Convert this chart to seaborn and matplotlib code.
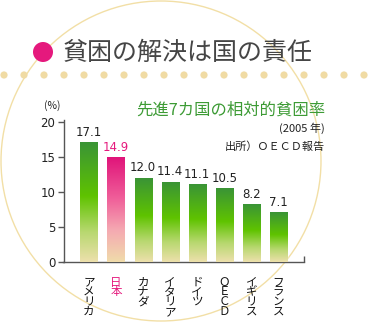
import numpy as np
import matplotlib
matplotlib.use("Agg")
import matplotlib.pyplot as plt
from matplotlib.colors import LinearSegmentedColormap
from matplotlib.patches import Circle
import seaborn as sns

# ---- data ----
categories = ["アメリカ", "日本", "カナダ", "イタリア", "ドイツ", "ＯＥＣＤ", "イギリス", "フランス"]
values = [17.1, 14.9, 12.0, 11.4, 11.1, 10.5, 8.2, 7.1]
value_labels = ["17.1", "14.9", "12.0", "11.4", "11.1", "10.5", "8.2", "7.1"]
y_ticks = [0, 5, 10, 15, 20]
highlight = "日本"

title = "貧困の解決は国の責任"
subtitle = "先進7カ国の相対的貧困率"
year_note = "(2005 年)"
source_note = "出所）ＯＥＣＤ報告"
unit_label = "(%)"

W, H = 369, 322
sns.set_theme(style="white")
plt.rcParams["font.family"] = ["Noto Sans CJK JP", "DejaVu Sans"]

fig = plt.figure(figsize=(W / 100, H / 100), dpi=100)
fig.patch.set_facecolor("white")

# background decoration axes (pixel coordinates)
bg = fig.add_axes([0, 0, 1, 1], zorder=0)
bg.set_xlim(0, W)
bg.set_ylim(H, 0)
bg.axis("off")
bg.add_patch(Circle((161, 161), 160, fill=False, ec="#f2dfa6", lw=1.0))
for xd in np.arange(4, W, 20):
    bg.add_patch(Circle((xd, 75), 3.6, fc="#f0dba4", ec="none"))
bg.add_patch(Circle((43, 52), 10, fc="#e5197d", ec="none"))
bg.text(63, 53, title, fontsize=18, color="#454545", va="center", ha="left")

# main chart axes
x0, x1 = 63.5, 304
ybase, ytop = 261.7, 119.7
ax = fig.add_axes([x0 / W, (H - ybase) / H, (x1 - x0) / W, (ybase - ytop) / H], zorder=2)
ax.set_facecolor("none")

palette = {c: ("#e5197d" if c == highlight else "#5cc000") for c in categories}
sns.barplot(x=categories, y=values, hue=categories, palette=palette, legend=False,
            width=0.63, ax=ax, saturation=1)

green_cmap = LinearSegmentedColormap.from_list(
    "g", [(0.0, "#ede0ac"), (0.25, "#b8d870"), (0.55, "#5fc300"), (1.0, "#3a9436")])
pink_cmap = LinearSegmentedColormap.from_list(
    "p", [(0.0, "#f0dcaa"), (0.3, "#f5aab2"), (0.6, "#f0609a"), (1.0, "#e0147a")])
grad = np.linspace(0, 1, 256).reshape(-1, 1)

ax.set_xlim(-0.94, 7.95)
ax.set_ylim(0, 20.3)
for patch, cat, lab, v in zip(ax.patches, categories, value_labels, values):
    bx, by = patch.get_x(), patch.get_y()
    bw, bh = patch.get_width(), patch.get_height()
    cmap = pink_cmap if cat == highlight else green_cmap
    ax.imshow(grad, cmap=cmap, origin="lower", aspect="auto",
              extent=[bx, bx + bw, by, by + bh], zorder=3, interpolation="bilinear")
    ax.annotate(lab, (bx + bw / 2, by + bh), xytext=(0, 2.5), textcoords="offset points",
                ha="center", va="bottom", fontsize=8.5,
                color="#e5197d" if cat == highlight else "#222222",
                family=["Liberation Sans Narrow", "DejaVu Sans"])
ax.set_xlim(-0.94, 7.95)
ax.set_ylim(0, 20.3)

# axes styling
for s in ["top", "right"]:
    ax.spines[s].set_visible(False)
for s in ["left", "bottom"]:
    ax.spines[s].set_color("#555555")
    ax.spines[s].set_linewidth(1.0)
ax.set_yticks(y_ticks)
ax.set_yticklabels([str(t) for t in y_ticks], family=["Liberation Sans Narrow", "DejaVu Sans"],
                   fontsize=8.5, color="#222222")
ax.tick_params(axis="y", direction="out", length=4, width=1, color="#555555", pad=2, left=True)
ax.set_xticks(range(len(categories)))
ax.set_xticklabels(["\n".join(c) for c in categories], fontsize=8.3, linespacing=0.68, va="top")
for t, c in zip(ax.get_xticklabels(), categories):
    t.set_color("#e5197d" if c == highlight else "#111111")
ax.tick_params(axis="x", length=0, pad=10)
ax.set_xticks([7.95], minor=True)
ax.tick_params(axis="x", which="minor", direction="in", length=4, width=1,
               color="#555555", bottom=True)
ax.set_xlabel("")
ax.set_ylabel("")

# texts
fig.text(52 / W, 1 - 106 / H, unit_label, fontsize=7.5, ha="center", va="center", color="#222222")
fig.text(325 / W, 1 - 110 / H, subtitle, fontsize=11.8, ha="right", va="center", color="#3d9b35")
fig.text(325 / W, 1 - 128 / H, year_note, fontsize=8, ha="right", va="center", color="#222222")
fig.text(325 / W, 1 - 147 / H, source_note, fontsize=8, ha="right", va="center", color="#222222")

fig.savefig("out.png", dpi=100, facecolor="white")
